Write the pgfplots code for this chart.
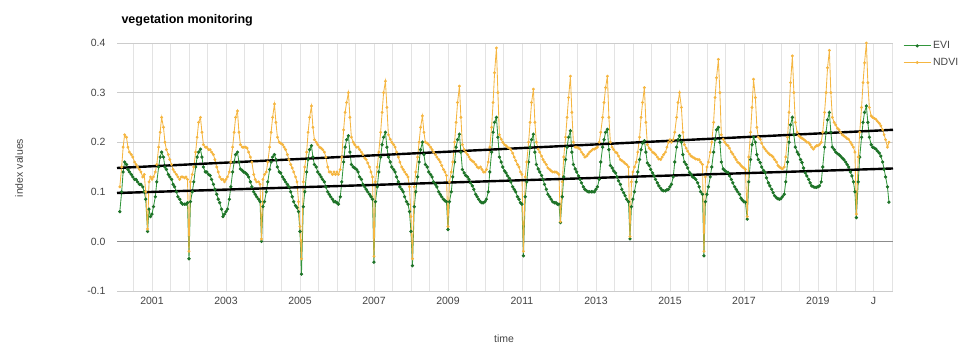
\documentclass[border=0pt]{standalone}
\usepackage{fontspec}
\setmainfont{Liberation Sans}
\usepackage{pgfplots}
\usepackage{pgfplotstable}
\pgfplotsset{compat=1.18}
\definecolor{evi}{RGB}{50,150,60}
\definecolor{evimark}{RGB}{30,115,40}
\definecolor{ndvi}{RGB}{245,182,65}
\definecolor{ticktext}{RGB}{68,68,68}

\pgfplotstableread{
t ndvi evi
2000.13 0.110 0.060
2000.18 0.150 0.100
2000.22 0.190 0.140
2000.26 0.215 0.160
2000.31 0.210 0.155
2000.35 0.190 0.145
2000.39 0.180 0.140
2000.44 0.175 0.135
2000.48 0.170 0.130
2000.53 0.160 0.125
2000.57 0.155 0.125
2000.61 0.150 0.120
2000.66 0.145 0.115
2000.70 0.140 0.115
2000.75 0.130 0.110
2000.79 0.135 0.100
2000.83 0.100 0.085
2000.88 0.025 0.020
2000.92 0.120 0.065
2000.96 0.130 0.050
2001.00 0.125 0.055
2001.04 0.130 0.070
2001.09 0.140 0.090
2001.13 0.155 0.120
2001.18 0.190 0.150
2001.22 0.220 0.170
2001.26 0.250 0.180
2001.31 0.230 0.170
2001.35 0.200 0.150
2001.39 0.185 0.145
2001.44 0.175 0.135
2001.48 0.165 0.130
2001.53 0.155 0.125
2001.57 0.145 0.115
2001.61 0.140 0.110
2001.66 0.135 0.100
2001.70 0.130 0.090
2001.75 0.125 0.085
2001.79 0.130 0.078
2001.83 0.130 0.075
2001.88 0.128 0.075
2001.92 0.130 0.075
2001.96 0.125 0.078
2002.00 -0.020 -0.035
2002.04 0.120 0.080
2002.09 0.135 0.100
2002.13 0.150 0.120
2002.18 0.180 0.150
2002.22 0.210 0.170
2002.26 0.240 0.180
2002.31 0.250 0.186
2002.35 0.220 0.170
2002.39 0.195 0.150
2002.44 0.190 0.140
2002.48 0.190 0.140
2002.53 0.185 0.135
2002.57 0.185 0.133
2002.61 0.180 0.125
2002.66 0.175 0.115
2002.70 0.165 0.105
2002.75 0.150 0.095
2002.79 0.140 0.085
2002.83 0.130 0.078
2002.88 0.125 0.065
2002.92 0.125 0.050
2002.96 0.120 0.055
2003.00 0.125 0.060
2003.04 0.130 0.065
2003.09 0.140 0.085
2003.13 0.160 0.110
2003.18 0.190 0.140
2003.22 0.220 0.160
2003.26 0.250 0.175
2003.31 0.263 0.180
2003.35 0.220 0.160
2003.39 0.195 0.146
2003.44 0.190 0.143
2003.48 0.190 0.140
2003.53 0.190 0.138
2003.57 0.188 0.135
2003.61 0.180 0.130
2003.66 0.170 0.120
2003.70 0.160 0.110
2003.75 0.135 0.100
2003.79 0.125 0.095
2003.83 0.120 0.090
2003.88 0.120 0.085
2003.92 0.115 0.080
2003.96 0.005 0.000
2004.00 0.125 0.070
2004.04 0.135 0.080
2004.09 0.140 0.100
2004.13 0.160 0.120
2004.18 0.190 0.145
2004.22 0.220 0.160
2004.26 0.250 0.170
2004.31 0.277 0.175
2004.35 0.240 0.165
2004.39 0.210 0.150
2004.44 0.200 0.140
2004.48 0.198 0.138
2004.53 0.195 0.130
2004.57 0.190 0.125
2004.61 0.185 0.120
2004.66 0.175 0.115
2004.70 0.165 0.110
2004.75 0.155 0.100
2004.79 0.148 0.090
2004.83 0.140 0.080
2004.88 0.130 0.072
2004.92 0.120 0.068
2004.96 0.080 0.060
2005.00 0.030 0.020
2005.04 -0.035 -0.066
2005.09 0.120 0.070
2005.13 0.150 0.100
2005.18 0.180 0.140
2005.22 0.220 0.165
2005.26 0.250 0.185
2005.31 0.273 0.193
2005.35 0.230 0.170
2005.39 0.205 0.155
2005.44 0.200 0.150
2005.48 0.195 0.140
2005.53 0.190 0.135
2005.57 0.188 0.130
2005.61 0.185 0.125
2005.66 0.180 0.120
2005.70 0.170 0.110
2005.75 0.150 0.100
2005.79 0.140 0.095
2005.83 0.140 0.090
2005.88 0.135 0.085
2005.92 0.140 0.080
2005.96 0.135 0.080
2006.00 0.140 0.078
2006.04 0.135 0.075
2006.09 0.145 0.090
2006.13 0.170 0.120
2006.18 0.225 0.160
2006.22 0.260 0.190
2006.26 0.280 0.205
2006.31 0.300 0.213
2006.35 0.250 0.180
2006.39 0.210 0.155
2006.44 0.200 0.150
2006.48 0.195 0.148
2006.53 0.190 0.145
2006.57 0.190 0.140
2006.61 0.185 0.130
2006.66 0.180 0.125
2006.70 0.175 0.115
2006.75 0.168 0.110
2006.79 0.165 0.105
2006.83 0.158 0.100
2006.88 0.150 0.095
2006.92 0.140 0.090
2006.96 0.130 0.085
2007.00 -0.030 -0.042
2007.04 0.120 0.080
2007.09 0.150 0.110
2007.13 0.180 0.140
2007.18 0.220 0.170
2007.22 0.260 0.195
2007.26 0.300 0.210
2007.31 0.323 0.220
2007.35 0.270 0.190
2007.39 0.215 0.170
2007.44 0.206 0.160
2007.48 0.200 0.150
2007.53 0.195 0.145
2007.57 0.190 0.140
2007.61 0.180 0.130
2007.66 0.170 0.120
2007.70 0.160 0.110
2007.75 0.150 0.105
2007.79 0.145 0.100
2007.83 0.140 0.090
2007.88 0.135 0.080
2007.92 0.130 0.075
2007.96 0.110 0.060
2008.00 0.050 0.020
2008.04 -0.035 -0.049
2008.09 0.110 0.070
2008.13 0.140 0.100
2008.18 0.170 0.130
2008.22 0.200 0.160
2008.26 0.230 0.185
2008.31 0.253 0.200
2008.35 0.220 0.175
2008.39 0.200 0.155
2008.44 0.198 0.150
2008.48 0.195 0.140
2008.53 0.190 0.135
2008.57 0.185 0.130
2008.61 0.180 0.120
2008.66 0.175 0.115
2008.70 0.170 0.110
2008.75 0.165 0.100
2008.79 0.160 0.095
2008.83 0.153 0.090
2008.88 0.145 0.085
2008.92 0.140 0.082
2008.96 0.133 0.080
2009.00 0.030 0.024
2009.04 0.120 0.080
2009.09 0.140 0.100
2009.13 0.160 0.130
2009.18 0.200 0.160
2009.22 0.240 0.190
2009.26 0.280 0.205
2009.31 0.313 0.216
2009.35 0.250 0.180
2009.39 0.195 0.145
2009.44 0.185 0.138
2009.48 0.180 0.133
2009.53 0.175 0.130
2009.57 0.170 0.125
2009.61 0.165 0.118
2009.66 0.162 0.112
2009.70 0.160 0.105
2009.75 0.155 0.095
2009.79 0.150 0.090
2009.83 0.148 0.085
2009.88 0.150 0.080
2009.92 0.145 0.078
2009.96 0.140 0.078
2010.00 0.140 0.080
2010.04 0.145 0.085
2010.09 0.160 0.100
2010.13 0.190 0.140
2010.18 0.230 0.180
2010.22 0.280 0.220
2010.26 0.340 0.240
2010.31 0.390 0.250
2010.35 0.300 0.210
2010.39 0.215 0.170
2010.44 0.206 0.160
2010.48 0.200 0.150
2010.53 0.195 0.142
2010.57 0.193 0.138
2010.61 0.190 0.132
2010.66 0.188 0.127
2010.70 0.185 0.120
2010.75 0.178 0.110
2010.79 0.170 0.105
2010.83 0.163 0.100
2010.88 0.155 0.090
2010.92 0.150 0.085
2010.96 0.140 0.078
2011.00 0.135 0.075
2011.04 -0.020 -0.029
2011.09 0.130 0.090
2011.13 0.160 0.120
2011.18 0.200 0.160
2011.22 0.240 0.190
2011.26 0.280 0.205
2011.31 0.307 0.216
2011.35 0.240 0.180
2011.39 0.200 0.155
2011.44 0.186 0.146
2011.48 0.180 0.140
2011.53 0.172 0.133
2011.57 0.165 0.125
2011.61 0.160 0.115
2011.66 0.155 0.105
2011.70 0.148 0.095
2011.75 0.145 0.090
2011.79 0.142 0.085
2011.83 0.140 0.080
2011.88 0.140 0.078
2011.92 0.140 0.078
2011.96 0.138 0.075
2012.00 0.135 0.075
2012.04 0.040 0.038
2012.09 0.120 0.090
2012.13 0.170 0.130
2012.18 0.210 0.165
2012.22 0.250 0.190
2012.26 0.290 0.210
2012.31 0.333 0.223
2012.35 0.260 0.180
2012.39 0.200 0.155
2012.44 0.190 0.146
2012.48 0.190 0.140
2012.53 0.188 0.132
2012.57 0.186 0.125
2012.61 0.180 0.118
2012.66 0.175 0.110
2012.70 0.170 0.105
2012.75 0.172 0.102
2012.79 0.176 0.100
2012.83 0.180 0.100
2012.88 0.183 0.100
2012.92 0.186 0.100
2012.96 0.186 0.100
2013.00 0.188 0.105
2013.04 0.190 0.110
2013.09 0.200 0.125
2013.13 0.220 0.160
2013.18 0.250 0.190
2013.22 0.280 0.205
2013.26 0.310 0.220
2013.31 0.333 0.226
2013.35 0.250 0.185
2013.39 0.200 0.153
2013.44 0.190 0.148
2013.48 0.185 0.142
2013.53 0.180 0.138
2013.57 0.178 0.130
2013.61 0.172 0.122
2013.66 0.165 0.115
2013.70 0.163 0.105
2013.75 0.160 0.098
2013.79 0.157 0.092
2013.83 0.155 0.085
2013.88 0.150 0.080
2013.92 0.010 0.005
2013.96 0.120 0.070
2014.00 0.140 0.085
2014.04 0.150 0.100
2014.09 0.160 0.120
2014.13 0.180 0.140
2014.18 0.210 0.165
2014.22 0.250 0.185
2014.26 0.280 0.198
2014.31 0.310 0.203
2014.35 0.240 0.180
2014.39 0.195 0.158
2014.44 0.188 0.153
2014.48 0.185 0.145
2014.53 0.180 0.138
2014.57 0.178 0.132
2014.61 0.175 0.125
2014.66 0.170 0.118
2014.70 0.166 0.112
2014.75 0.165 0.107
2014.79 0.170 0.103
2014.83 0.175 0.102
2014.88 0.180 0.102
2014.92 0.190 0.104
2014.96 0.200 0.105
2015.00 0.205 0.110
2015.04 0.200 0.115
2015.09 0.205 0.130
2015.13 0.220 0.160
2015.18 0.250 0.190
2015.22 0.280 0.205
2015.26 0.300 0.213
2015.31 0.270 0.200
2015.35 0.220 0.175
2015.39 0.195 0.160
2015.44 0.188 0.155
2015.48 0.182 0.148
2015.53 0.176 0.139
2015.57 0.172 0.135
2015.61 0.170 0.130
2015.66 0.168 0.128
2015.70 0.166 0.125
2015.75 0.165 0.118
2015.79 0.165 0.110
2015.83 0.160 0.100
2015.88 0.155 0.095
2015.92 -0.020 -0.029
2015.96 0.130 0.080
2016.00 0.150 0.095
2016.04 0.160 0.110
2016.09 0.180 0.130
2016.13 0.200 0.150
2016.18 0.240 0.180
2016.22 0.290 0.205
2016.26 0.330 0.225
2016.31 0.367 0.230
2016.35 0.300 0.200
2016.39 0.215 0.160
2016.44 0.206 0.146
2016.48 0.200 0.143
2016.53 0.195 0.140
2016.57 0.193 0.139
2016.61 0.188 0.132
2016.66 0.180 0.125
2016.70 0.176 0.118
2016.75 0.170 0.110
2016.79 0.165 0.105
2016.83 0.160 0.100
2016.88 0.157 0.095
2016.92 0.153 0.087
2016.96 0.150 0.083
2017.00 0.148 0.080
2017.04 0.145 0.079
2017.09 0.050 0.045
2017.13 0.170 0.120
2017.18 0.220 0.165
2017.22 0.270 0.195
2017.26 0.327 0.210
2017.31 0.290 0.200
2017.35 0.230 0.175
2017.39 0.210 0.165
2017.44 0.206 0.159
2017.48 0.198 0.150
2017.53 0.190 0.143
2017.57 0.186 0.139
2017.61 0.182 0.128
2017.66 0.178 0.118
2017.70 0.175 0.112
2017.75 0.173 0.105
2017.79 0.170 0.098
2017.83 0.165 0.092
2017.88 0.160 0.088
2017.92 0.153 0.086
2017.96 0.150 0.085
2018.00 0.148 0.086
2018.04 0.146 0.090
2018.09 0.150 0.095
2018.13 0.170 0.120
2018.18 0.210 0.160
2018.22 0.260 0.200
2018.26 0.320 0.235
2018.31 0.374 0.250
2018.35 0.300 0.215
2018.39 0.240 0.190
2018.44 0.220 0.180
2018.48 0.213 0.175
2018.53 0.210 0.165
2018.57 0.208 0.159
2018.61 0.206 0.148
2018.66 0.203 0.138
2018.70 0.200 0.132
2018.75 0.199 0.125
2018.79 0.195 0.118
2018.83 0.190 0.112
2018.88 0.186 0.110
2018.92 0.190 0.109
2018.96 0.193 0.109
2019.00 0.193 0.110
2019.04 0.195 0.112
2019.09 0.200 0.120
2019.13 0.220 0.150
2019.18 0.260 0.190
2019.22 0.300 0.220
2019.26 0.350 0.245
2019.31 0.385 0.260
2019.35 0.300 0.220
2019.39 0.250 0.190
2019.44 0.240 0.185
2019.48 0.235 0.180
2019.53 0.228 0.177
2019.57 0.225 0.175
2019.61 0.220 0.172
2019.66 0.215 0.168
2019.70 0.213 0.165
2019.75 0.210 0.160
2019.79 0.207 0.155
2019.83 0.206 0.150
2019.88 0.200 0.140
2019.92 0.195 0.132
2019.96 0.190 0.120
2020.00 0.180 0.100
2020.04 0.055 0.048
2020.09 0.170 0.120
2020.13 0.220 0.170
2020.18 0.270 0.210
2020.22 0.320 0.240
2020.26 0.360 0.260
2020.31 0.400 0.273
2020.35 0.320 0.240
2020.39 0.270 0.210
2020.44 0.253 0.195
2020.48 0.250 0.190
2020.53 0.248 0.188
2020.57 0.246 0.186
2020.61 0.242 0.182
2020.66 0.238 0.178
2020.70 0.233 0.172
2020.75 0.225 0.160
2020.79 0.215 0.145
2020.83 0.205 0.130
2020.88 0.190 0.110
2020.92 0.200 0.079
}\datatable

\begin{document}
\begin{tikzpicture}[x=1pt,y=1pt]
\path[use as bounding box] (0,0) rectangle (968,347);
\begin{axis}[
  at={(117pt,56pt)}, anchor=south west,
  width=776pt, height=248pt, scale only axis,
  xmin=2000.054, xmax=2021.03, ymin=-0.1, ymax=0.4,
  axis line style={draw=none},
  major tick length=0pt, minor tick length=0pt,
  tick style={draw=none},
  xtick={2001,2003,2005,2007,2009,2011,2013,2015,2017,2019,2020.5},
  xticklabels={2001,2003,2005,2007,2009,2011,2013,2015,2017,2019,J},
  minor xtick={2000,2000.5,2001,2001.5,2002,2002.5,2003,2003.5,2004,2004.5,2005,2005.5,2006,2006.5,2007,2007.5,2008,2008.5,2009,2009.5,2010,2010.5,2011,2011.5,2012,2012.5,2013,2013.5,2014,2014.5,2015,2015.5,2016,2016.5,2017,2017.5,2018,2018.5,2019,2019.5,2020,2020.5,2021},
  xmajorgrids=false, xminorgrids=true, ymajorgrids=true,
  minor grid style={color=black!11, line width=0.8pt},
  major grid style={color=black!20, line width=0.9pt},
  ytick={-0.1,0,0.1,0.2,0.3,0.4},
  /pgf/number format/assume math mode=true,
  yticklabel style={/pgf/number format/fixed, /pgf/number format/fixed zerofill, /pgf/number format/precision=1, xshift=-8pt},
  xticklabel style={yshift=-3pt},
  ticklabel style={font=\fontsize{10.5}{12}\selectfont, text=ticktext},
  legend style={at={(1.013,1.015)}, anchor=north west, draw=none, fill=none,
    font=\fontsize{10.5}{12}\selectfont, text=ticktext, row sep=4pt, inner sep=0pt},
  legend cell align=left,
  legend image code/.code={\draw[mark repeat=2,mark phase=2,#1] plot coordinates {(0pt,0pt) (13.5pt,0pt) (27pt,0pt)};},
  clip=false,
]
\draw[color=black!45, line width=0.9pt] (axis cs:2000.054,0) -- (axis cs:2021.03,0);
\addplot[color=evi, line width=0.85pt, mark=*, mark size=1.2pt, mark options={fill=evimark, draw=evimark}] table[x=t,y=evi]{\datatable};
\addplot[color=ndvi, line width=0.85pt, mark=*, mark size=1pt, mark options={fill=ndvi, draw=ndvi}] table[x=t,y=ndvi]{\datatable};
\addplot[black, line width=2.4pt, forget plot] coordinates {(2000.054,0.148) (2021.03,0.225)};
\addplot[black, line width=2.4pt, forget plot] coordinates {(2000.054,0.0975) (2021.03,0.147)};
\legend{EVI,NDVI}
\end{axis}
\node[anchor=base west, font=\bfseries\fontsize{12.5}{15}\selectfont] at (118,323.5) {vegetation monitoring};
\node[rotate=90, font=\fontsize{10.5}{12}\selectfont, text=ticktext] at (19,179) {index values};
\node[font=\fontsize{10.5}{12}\selectfont, text=ticktext] at (504,8) {time};
\end{tikzpicture}
\end{document}
